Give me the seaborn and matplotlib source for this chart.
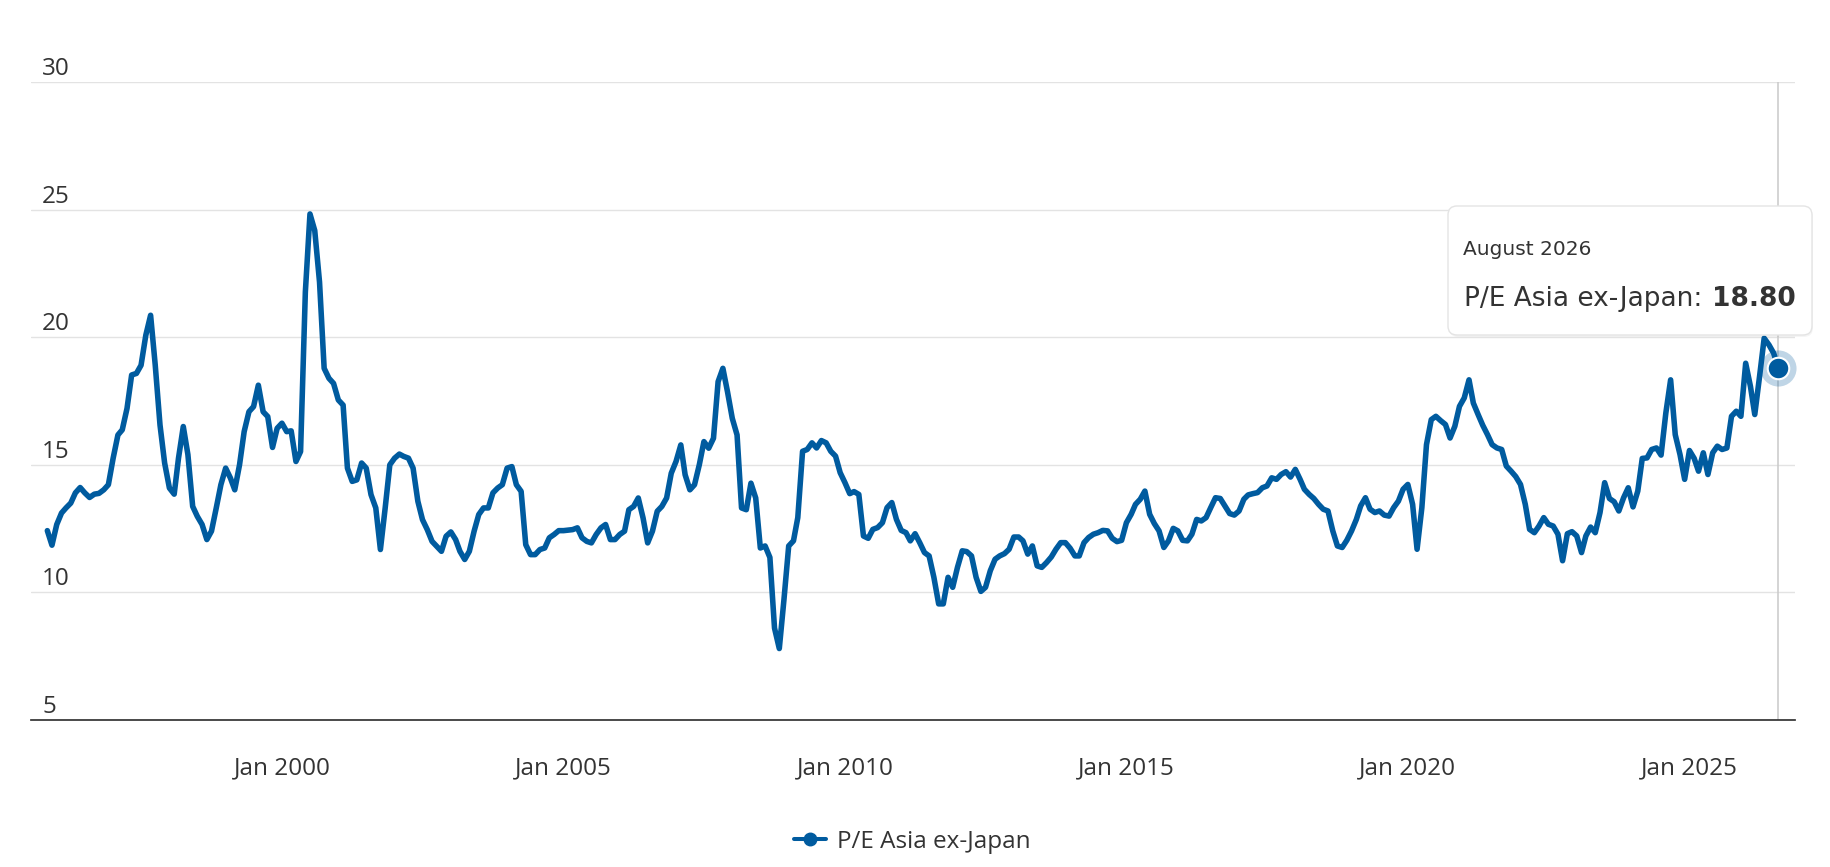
import pandas as pd
import seaborn as sns
import matplotlib.pyplot as plt
import matplotlib.dates as mdates
import matplotlib.transforms as mtransforms
from matplotlib.lines import Line2D
from matplotlib.patches import FancyBboxPatch

# Monthly P/E readings, Nov 1995 .. Aug 2026
pe_1995 = [12.42, 11.85]
pe_1996 = [12.66, 13.11, 13.31, 13.5, 13.9, 14.11, 13.9, 13.72, 13.85, 13.88, 14.02, 14.22]
pe_1997 = [15.26, 16.17, 16.37, 17.21, 18.52, 18.58, 18.9, 20.08, 20.86, 18.91, 16.56, 15.07]
pe_1998 = [14.09, 13.85, 15.26, 16.5, 15.4, 13.37, 12.98, 12.66, 12.07, 12.4, 13.31, 14.22]
pe_1999 = [14.87, 14.48, 14.02, 15.0, 16.3, 17.08, 17.28, 18.12, 17.08, 16.89, 15.68, 16.43]
pe_2000 = [16.63, 16.3, 16.33, 15.13, 15.52, 21.77, 24.83, 24.18, 22.16, 18.78, 18.39, 18.19]
pe_2001 = [17.54, 17.34, 14.87, 14.35, 14.41, 15.07, 14.87, 13.83, 13.31, 11.68, 13.31, 15.0]
pe_2002 = [15.26, 15.42, 15.33, 15.26, 14.87, 13.57, 12.85, 12.46, 12.0, 11.81, 11.61, 12.2]
pe_2003 = [12.37, 12.07, 11.61, 11.29, 11.61, 12.4, 13.05, 13.31, 13.31, 13.9, 14.09, 14.22]
pe_2004 = [14.87, 14.93, 14.22, 13.96, 11.87, 11.48, 11.48, 11.68, 11.74, 12.14, 12.27, 12.42]
pe_2005 = [12.42, 12.44, 12.46, 12.53, 12.14, 12.0, 11.94, 12.27, 12.53, 12.66, 12.07, 12.07]
pe_2006 = [12.27, 12.4, 13.24, 13.37, 13.7, 12.92, 11.94, 12.4, 13.18, 13.37, 13.7, 14.67]
pe_2007 = [15.13, 15.78, 14.61, 14.02, 14.22, 15.0, 15.91, 15.65, 16.04, 18.26, 18.78, 17.86]
pe_2008 = [16.82, 16.17, 13.31, 13.24, 14.28, 13.7, 11.74, 11.82, 11.37, 8.6, 7.8, 9.7]
pe_2009 = [11.82, 12.02, 12.93, 15.53, 15.6, 15.86, 15.66, 15.95, 15.86, 15.53, 15.34, 14.69]
pe_2010 = [14.3, 13.87, 13.95, 13.84, 12.21, 12.12, 12.47, 12.54, 12.73, 13.32, 13.52, 12.86]
pe_2011 = [12.43, 12.34, 12.02, 12.3, 11.95, 11.56, 11.43, 10.59, 9.55, 9.55, 10.59, 10.2]
pe_2012 = [10.98, 11.63, 11.6, 11.43, 10.59, 10.04, 10.2, 10.85, 11.3, 11.43, 11.52, 11.69]
pe_2013 = [12.17, 12.17, 12.02, 11.5, 11.82, 11.04, 10.98, 11.17, 11.39, 11.69, 11.95, 11.95]
pe_2014 = [11.73, 11.43, 11.43, 11.95, 12.15, 12.28, 12.34, 12.43, 12.41, 12.12, 11.99, 12.04]
pe_2015 = [12.73, 13.06, 13.45, 13.65, 13.97, 13.06, 12.7, 12.41, 11.76, 12.02, 12.51, 12.41]
pe_2016 = [12.04, 12.02, 12.28, 12.86, 12.8, 12.93, 13.32, 13.71, 13.68, 13.39, 13.09, 13.03]
pe_2017 = [13.19, 13.65, 13.82, 13.87, 13.91, 14.1, 14.17, 14.49, 14.43, 14.62, 14.73, 14.52]
pe_2018 = [14.82, 14.43, 14.04, 13.84, 13.68, 13.45, 13.26, 13.19, 12.41, 11.82, 11.76, 12.04]
pe_2019 = [12.41, 12.86, 13.39, 13.71, 13.26, 13.13, 13.19, 13.03, 12.99, 13.32, 13.58, 14.04]
pe_2020 = [14.23, 13.45, 11.69, 13.32, 15.79, 16.77, 16.9, 16.73, 16.58, 16.05, 16.51, 17.29]
pe_2021 = [17.62, 18.33, 17.42, 16.97, 16.55, 16.18, 15.79, 15.66, 15.6, 14.95, 14.75, 14.54]
pe_2022 = [14.23, 13.45, 12.47, 12.34, 12.6, 12.93, 12.67, 12.6, 12.28, 11.24, 12.3, 12.38]
pe_2023 = [12.21, 11.56, 12.21, 12.56, 12.34, 13.13, 14.3, 13.68, 13.55, 13.19, 13.71, 14.1]
pe_2024 = [13.35, 13.97, 15.25, 15.27, 15.6, 15.66, 15.38, 17.03, 18.33, 16.18, 15.4, 14.43]
pe_2025 = [15.56, 15.25, 14.75, 15.47, 14.62, 15.47, 15.73, 15.6, 15.66, 16.9, 17.1, 16.9]
pe_2026 = [18.98, 18.07, 16.97, 18.46, 19.96, 19.7, 19.38, 18.8]

pe = (pe_1995 + pe_1996 + pe_1997 + pe_1998 + pe_1999 + pe_2000 + pe_2001
      + pe_2002 + pe_2003 + pe_2004 + pe_2005 + pe_2006 + pe_2007 + pe_2008
      + pe_2009 + pe_2010 + pe_2011 + pe_2012 + pe_2013 + pe_2014 + pe_2015
      + pe_2016 + pe_2017 + pe_2018 + pe_2019 + pe_2020 + pe_2021 + pe_2022
      + pe_2023 + pe_2024 + pe_2025 + pe_2026)
dates = pd.date_range("1995-11-01", periods=len(pe), freq="MS")

series_name = "P/E Asia ex-Japan"
y_ticks = [5, 10, 15, 20, 25, 30]

df = pd.DataFrame({"date": dates, "pe": pe})

line_color = "#005b9f"
text_color = "#333333"

sns.set_style("white")
plt.rcParams["font.family"] = ["Open Sans", "DejaVu Sans"]

W, H = 1830, 867
fig = plt.figure(figsize=(W / 100, H / 100), dpi=100)
ax = fig.add_axes([31 / W, 147 / H, 1764 / W, 638 / H])

sns.lineplot(data=df, x="date", y="pe", ax=ax, color=line_color, linewidth=4.0,
             solid_joinstyle="round", solid_capstyle="round", zorder=3)

ax.set_ylim(5, 30)
ax.set_xlim(pd.Timestamp("1995-07-18"), pd.Timestamp("2026-11-17"))
ax.set_xlabel("")
ax.set_ylabel("")

# y grid + labels sitting above the grid lines
ax.set_yticks(y_ticks)
ax.set_yticklabels([])
ax.tick_params(axis="y", length=0)
ax.grid(axis="y", color="#e3e3e3", linewidth=1.0)
ax.grid(axis="x", visible=False)
lab_trans = mtransforms.offset_copy(ax.get_yaxis_transform(), fig=fig, x=11, y=7, units="dots")
for v in y_ticks:
    ax.text(0, v, str(v), transform=lab_trans, ha="left", va="baseline",
            fontsize=17.5, color=text_color)

# x axis
ax.xaxis.set_major_locator(mdates.YearLocator(5))
ax.xaxis.set_major_formatter(mdates.DateFormatter("Jan %Y"))
ax.tick_params(axis="x", length=13.7, width=1.2, color=text_color, pad=12.5,
               labelsize=17.5, labelcolor=text_color, direction="out")
for s in ["top", "right", "left"]:
    ax.spines[s].set_visible(False)
ax.spines["bottom"].set_color(text_color)
ax.spines["bottom"].set_linewidth(1.25)

# hover crosshair + highlighted last point
ax.axvline(dates[-1], color="#c9c9c9", linewidth=1.1, zorder=2)
ax.plot(dates[-1], pe[-1], marker="o", markersize=26, color=line_color, alpha=0.25,
        markeredgecolor="none", zorder=4, clip_on=False)
ax.plot(dates[-1], pe[-1], marker="o", markersize=15.5, color=line_color,
        markeredgecolor="white", markeredgewidth=1.5, zorder=5, clip_on=False)

# tooltip
px = mtransforms.IdentityTransform()
shadow = FancyBboxPatch((1449, H - 337), 364, 129, boxstyle="round,pad=0,rounding_size=9",
                        transform=px, facecolor="#000000", alpha=0.04, edgecolor="none", zorder=5)
box = FancyBboxPatch((1448, H - 335), 364, 129, boxstyle="round,pad=0,rounding_size=9",
                     transform=px, facecolor="white", edgecolor="#e4e4e4", linewidth=1.0, zorder=6)
fig.add_artist(shadow)
fig.add_artist(box)
fig.text(1463 / W, (H - 255) / H, dates[-1].strftime("%B %Y"), family="DejaVu Sans",
         fontsize=14.5, color=text_color, va="baseline", zorder=7)
t1 = fig.text(1464 / W, (H - 306) / H, series_name + ":", family="DejaVu Sans",
              fontsize=19, color=text_color, va="baseline", zorder=7)
fig.add_artist(plt.Annotation(f"{pe[-1]:.2f}", xy=(1, 0), xycoords=t1, xytext=(10, 0),
                              textcoords="offset pixels", family="DejaVu Sans", fontweight="bold",
                              fontsize=19, color=text_color, va="bottom", ha="left", zorder=7))

# legend
handle = Line2D([0], [0], color=line_color, linewidth=2.9, marker="o", markersize=9)
fig.legend(handles=[handle], labels=[series_name], loc="center",
           bbox_to_anchor=(912.5 / W, 1 - 842 / H), frameon=False, fontsize=17.5,
           handlelength=1.3, handletextpad=0.45, labelcolor=text_color)

fig.savefig("out.png", dpi=100, facecolor="white")
